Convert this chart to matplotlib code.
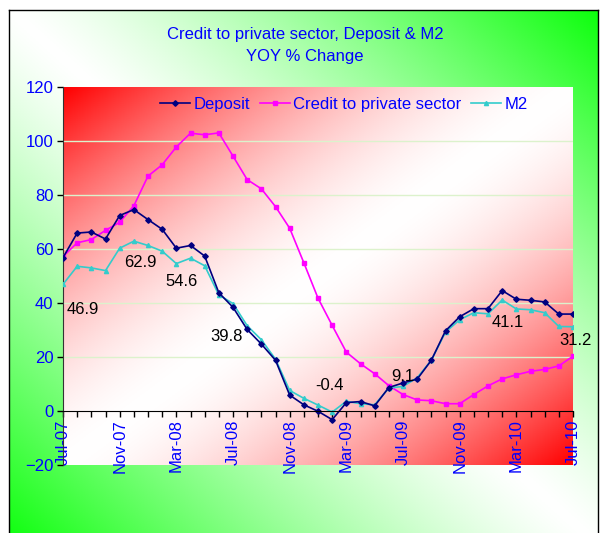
"""Credit to private sector, Deposit & M2 - YOY % change chart."""

import matplotlib

matplotlib.use("Agg")
import matplotlib.pyplot as plt
import numpy as np
import pandas as pd

plt.rcParams["font.family"] = ["Liberation Sans", "DejaVu Sans"]

# Monthly observations, Jul-07 .. Jul-10
months = pd.date_range("2007-07-01", periods=37, freq="MS").strftime("%b-%y").tolist()

deposit = [56.8, 65.9, 66.3, 63.7, 72.4, 74.6, 70.9, 67.3, 60.3, 61.3, 57.4, 43.8,
           38.4, 30.2, 24.8, 18.8, 5.9, 2.3, -0.1, -3.2, 3.1, 3.5, 1.9, 8.7,
           10.4, 11.8, 18.8, 29.7, 34.9, 37.9, 37.9, 44.6, 41.4, 41.0, 40.4, 35.9,
           35.9]
credit = [57.2, 62.3, 63.5, 66.9, 69.9, 76.0, 87.0, 91.2, 97.8, 102.9, 102.3, 103.0,
          94.4, 85.7, 82.3, 75.7, 67.7, 54.9, 41.8, 31.7, 21.8, 17.5, 13.8, 9.4,
          6.1, 4.1, 3.8, 2.7, 2.7, 6.1, 9.3, 11.9, 13.4, 14.7, 15.4, 16.7,
          20.3]
m2 = [46.9, 53.6, 53.0, 52.0, 60.3, 62.9, 61.3, 59.2, 54.6, 56.6, 53.8, 43.0,
      39.8, 31.6, 26.4, 19.2, 7.6, 4.7, 2.2, -0.4, 3.6, 2.7, 2.3, 8.5,
      9.1, 12.3, 18.8, 29.2, 33.8, 36.4, 36.0, 41.1, 37.8, 37.5, 36.4, 31.3,
      31.2]

# M2 points carrying a value label, with label offsets in points
label_idx = [0, 5, 8, 12, 19, 24, 31, 36]
label_off = [(14, -18), (5, -15), (4, -13), (-5, -24), (-2, 19), (0, 7), (4, -16), (2, -10)]

BLUE = "#0000FF"


def gradient(n_rows, n_cols, kind, power):
    """Excel style two-colour diagonal gradient (row 0 is the top)."""
    yy, xx = np.mgrid[0:1:n_rows * 1j, 0:1:n_cols * 1j]
    if kind == "red":
        a = np.abs(xx + yy - 1) ** power
        return np.dstack([np.ones_like(a), 1 - a, 1 - a])
    a = np.abs(xx - yy) ** power
    return np.dstack([1 - a * 0.95, np.ones_like(a), 1 - a * 0.95])


fig = plt.figure(figsize=(6.01, 5.33), dpi=100)

# outer chart area: white/green gradient inside a black frame
bg = fig.add_axes([9 / 601, -12 / 533, 589 / 601, (533 - 10 + 12) / 533], zorder=-10)
bg.imshow(gradient(200, 200, "green", 1.25), extent=[0, 1, 0, 1], aspect="auto")
bg.set_xticks([])
bg.set_yticks([])
for sp in bg.spines.values():
    sp.set_color("black")
    sp.set_linewidth(1.0)

ax = fig.add_axes([63 / 601, 1 - 465 / 533, 510 / 601, 378 / 533])
ax.imshow(gradient(200, 200, "red", 1.6), extent=[0, 1, 0, 1], aspect="auto",
          transform=ax.transAxes, zorder=0)

x = np.arange(len(months))
for val in [20, 40, 60, 80, 100]:
    ax.axhline(val, color="#dcf2cc", linewidth=1.0, zorder=1)

ax.plot(x, deposit, color="#000080", marker="D", markersize=2.8, linewidth=1.2,
        label="Deposit", zorder=4)
ax.plot(x, credit, color="#FF00FF", marker="s", markersize=2.5, linewidth=1.2,
        label="Credit to private sector", zorder=3)
ax.plot(x, m2, color="#33CCCC", marker="^", markersize=3, linewidth=1.2,
        label="M2", zorder=3)

for i, (dx, dy) in zip(label_idx, label_off):
    ax.annotate("%.1f" % m2[i], (x[i], m2[i]), xytext=(dx, dy), textcoords="offset points",
                ha="center", va="center", fontsize=12, color="black", zorder=5)

ax.set_xlim(0, len(months) - 1)
ax.set_ylim(-20, 120)
ax.set_yticks(range(-20, 121, 20))
ax.set_xticks(x)
ax.set_xticklabels([m if i % 4 == 0 else "" for i, m in enumerate(months)])
ax.tick_params(axis="x", direction="out", length=4, width=1, pad=2,
               labelrotation=90, labelcolor=BLUE, labelsize=12)
ax.tick_params(axis="y", direction="out", length=4, width=1, labelcolor=BLUE,
               labelsize=12, pad=3)

ax.spines["bottom"].set_position(("data", 0))
ax.spines["bottom"].set_zorder(6)
ax.spines["left"].set_color("#333333")
ax.spines["top"].set_visible(False)
ax.spines["right"].set_visible(False)

leg = ax.legend(loc="center left", bbox_to_anchor=(0.19, 0.955), ncol=3, frameon=False,
                fontsize=12, handlelength=1.8, handletextpad=0.2, columnspacing=0.6,
                borderaxespad=0, borderpad=0)
for t in leg.get_texts():
    t.set_color(BLUE)

fig.text(305 / 601, 1 - 35 / 533, "Credit to private sector, Deposit & M2",
         ha="center", va="center", color=BLUE, fontsize=12)
fig.text(305 / 601, 1 - 57 / 533, "YOY % Change",
         ha="center", va="center", color=BLUE, fontsize=12)

fig.savefig("out.png", dpi=100)
plt.close(fig)
